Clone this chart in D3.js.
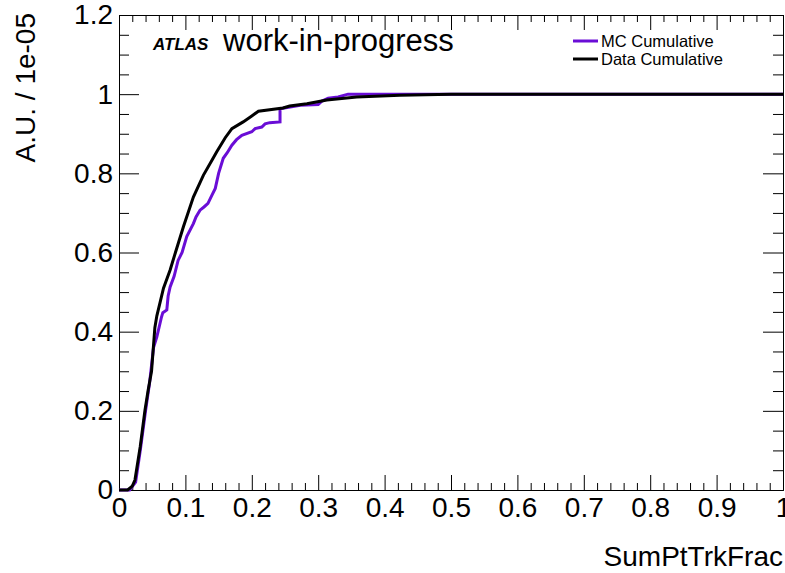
<!DOCTYPE html>
<html>
<head>
<meta charset="utf-8">
<script src="https://cdn.jsdelivr.net/npm/d3@7"></script>
<style>
  body { margin: 0; background: #fff; }
  text { font-family: "Liberation Sans", Arial, sans-serif; }
</style>
</head>
<body>
<div id="chart"></div>
<script>
const width = 785;
const height = 573;
const margin = { top: 15, right: 2, bottom: 83, left: 119 };

// cumulative curves
const dataX = [0, 0.013, 0.02, 0.024, 0.032, 0.039, 0.044, 0.049, 0.054, 0.057, 0.067, 0.077, 0.085, 0.097, 0.112, 0.127, 0.14, 0.147, 0.16, 0.17, 0.187, 0.2, 0.21, 0.247, 0.257, 0.283, 0.313, 0.358, 0.423, 0.5, 1.0];
const dataY = [0, 0, 0.01, 0.025, 0.11, 0.2, 0.253, 0.3, 0.41, 0.44, 0.51, 0.556, 0.6, 0.665, 0.74, 0.795, 0.833, 0.854, 0.89, 0.913, 0.93, 0.945, 0.957, 0.965, 0.97, 0.976, 0.985, 0.993, 0.997, 1.0, 1.0];

const mcX = [0, 0.016, 0.025, 0.032, 0.04, 0.046, 0.052, 0.057, 0.064, 0.066, 0.072, 0.074, 0.077, 0.083, 0.089, 0.095, 0.102, 0.112, 0.116, 0.122, 0.128, 0.134, 0.14, 0.145, 0.15, 0.157, 0.163, 0.17, 0.177, 0.185, 0.2, 0.205, 0.215, 0.22, 0.227, 0.2425, 0.2425, 0.273, 0.3, 0.305, 0.315, 0.33, 0.345, 0.5, 1.0];
const mcY = [0, 0, 0.02, 0.1, 0.2, 0.27, 0.36, 0.387, 0.437, 0.448, 0.455, 0.49, 0.513, 0.54, 0.58, 0.6, 0.64, 0.673, 0.69, 0.707, 0.715, 0.724, 0.745, 0.762, 0.8, 0.838, 0.852, 0.871, 0.885, 0.896, 0.905, 0.913, 0.917, 0.925, 0.928, 0.93, 0.963, 0.972, 0.974, 0.982, 0.99, 0.993, 1.0, 1.0, 1.0];

const xMajor = [0, 0.1, 0.2, 0.3, 0.4, 0.5, 0.6, 0.7, 0.8, 0.9, 1];
const yMajor = [0, 0.2, 0.4, 0.6, 0.8, 1, 1.2];

const xMinor = d3.range(0, 50).map((i) => i * 0.02).filter((v, i) => i % 5 !== 0);
const yMinor = d3.range(0, 24).map((i) => i * 0.05).filter((v, i) => i % 4 !== 0);

const svg = d3
  .select("#chart")
  .append("svg")
  .attr("width", width)
  .attr("height", height);

const xScale = d3
  .scaleLinear()
  .domain([0, 1])
  .range([margin.left, width - margin.right]);

const yScale = d3
  .scaleLinear()
  .domain([0, 1.2])
  .range([height - margin.bottom, margin.top]);

const fmt = (d) => String(+d.toFixed(1));

function addAxis(axis, transform) {
  const g = svg.append("g").attr("transform", transform).call(axis);
  g.select(".domain").attr("stroke", "#000");
  g.selectAll(".tick line").attr("stroke", "#000");
  g.selectAll("text")
    .attr("font-size", 28)
    .attr("font-family", "Liberation Sans, Arial, sans-serif")
    .attr("fill", "#000");
  return g;
}

const yBottom = height - margin.bottom;

// bottom
addAxis(d3.axisBottom(xScale).tickValues(xMinor).tickFormat("").tickSize(-7).tickSizeOuter(0), `translate(0,${yBottom})`);
addAxis(d3.axisBottom(xScale).tickValues(xMajor).tickFormat(fmt).tickSize(-15).tickSizeOuter(0).tickPadding(7), `translate(0,${yBottom})`);
// top
addAxis(d3.axisTop(xScale).tickValues(xMinor).tickFormat("").tickSize(-7).tickSizeOuter(0), `translate(0,${margin.top})`);
addAxis(d3.axisTop(xScale).tickValues(xMajor).tickFormat("").tickSize(-15).tickSizeOuter(0), `translate(0,${margin.top})`);
// left
addAxis(d3.axisLeft(yScale).tickValues(yMinor).tickFormat("").tickSize(-10).tickSizeOuter(0), `translate(${margin.left},0)`);
addAxis(d3.axisLeft(yScale).tickValues(yMajor).tickFormat(fmt).tickSize(-20).tickSizeOuter(0).tickPadding(6), `translate(${margin.left},0)`);
// right
addAxis(d3.axisRight(yScale).tickValues(yMinor).tickFormat("").tickSize(-10).tickSizeOuter(0), `translate(${width - margin.right},0)`);
addAxis(d3.axisRight(yScale).tickValues(yMajor).tickFormat("").tickSize(-20).tickSizeOuter(0), `translate(${width - margin.right},0)`);

// curves
const line = d3
  .line()
  .x((d) => xScale(d[0]))
  .y((d) => yScale(d[1]));

svg
  .append("path")
  .datum(mcX.map((x, i) => [x, mcY[i]]))
  .attr("d", line)
  .attr("fill", "none")
  .attr("stroke", "#6a0dd6")
  .attr("stroke-width", 3);

svg
  .append("path")
  .datum(dataX.map((x, i) => [x, dataY[i]]))
  .attr("d", line)
  .attr("fill", "none")
  .attr("stroke", "#000")
  .attr("stroke-width", 3);

// axis titles
svg
  .append("text")
  .attr("x", width - margin.right)
  .attr("y", 566)
  .attr("text-anchor", "end")
  .attr("font-size", 28)
  .text("SumPtTrkFrac");

svg
  .append("text")
  .attr("transform", "rotate(-90)")
  .attr("x", -13)
  .attr("y", 35)
  .attr("text-anchor", "end")
  .attr("font-size", 28)
  .text("A.U. / 1e-05");

// ATLAS label
svg
  .append("text")
  .attr("x", 153)
  .attr("y", 50)
  .attr("font-size", 17)
  .attr("font-weight", "bold")
  .attr("font-style", "italic")
  .text("ATLAS");

svg
  .append("text")
  .attr("x", 223)
  .attr("y", 51)
  .attr("font-size", 31)
  .text("work-in-progress");

// legend
const legend = [
  { label: "MC Cumulative", color: "#6a0dd6", y: 41 },
  { label: "Data Cumulative", color: "#000", y: 59 },
];

legend.forEach((d) => {
  svg
    .append("line")
    .attr("x1", 573)
    .attr("x2", 598)
    .attr("y1", d.y)
    .attr("y2", d.y)
    .attr("stroke", d.color)
    .attr("stroke-width", 3);
  svg
    .append("text")
    .attr("x", 601)
    .attr("y", d.y + 6)
    .attr("font-size", 16.5)
    .text(d.label);
});
</script>
</body>
</html>
